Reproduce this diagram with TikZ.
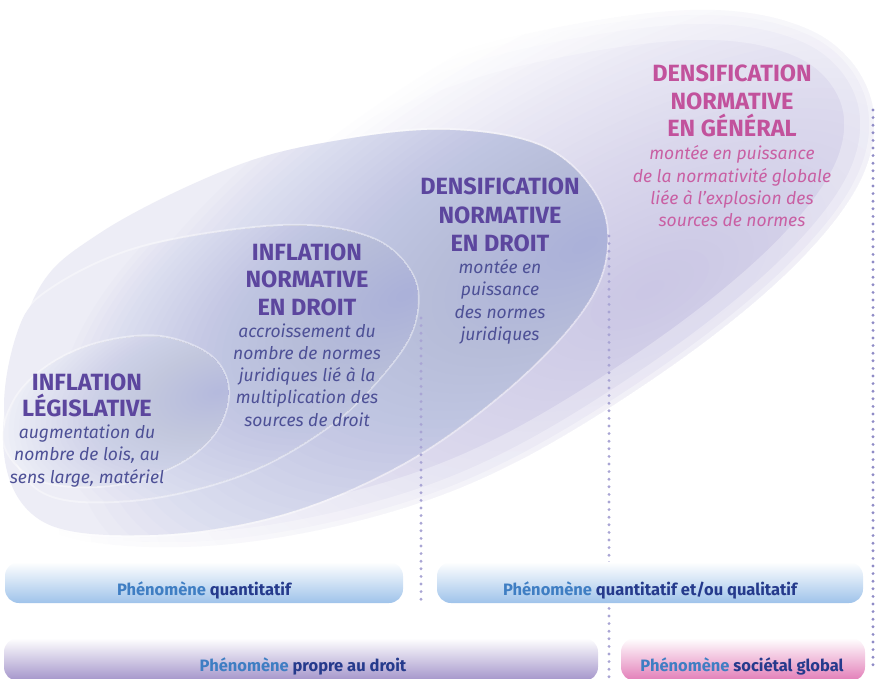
\documentclass[tikz,border=0pt]{standalone}
\usepackage{fontspec}
\setmainfont{Fira Sans}
\definecolor{headpurple}{HTML}{5C469E}
\definecolor{descblue}{HTML}{4D5096}
\definecolor{pinkhead}{HTML}{C2529C}
\definecolor{pinkdesc}{HTML}{C95FA3}
\definecolor{phen}{HTML}{3F7EC3}
\definecolor{navy}{HTML}{253A8C}
\definecolor{barblue}{HTML}{9FC3EA}
\definecolor{barpurple}{HTML}{A394CA}
\definecolor{barpink}{HTML}{E27CB7}
\definecolor{dotc}{HTML}{A9A5D4}
\definecolor{dotd}{HTML}{8F8BC6}
\definecolor{strongA}{HTML}{AAA4D4}
\definecolor{baseB}{HTML}{EDEDF6}
\definecolor{strongB}{HTML}{A3ACD9}
\definecolor{baseD}{HTML}{F1F1F8}
\definecolor{strongD}{HTML}{ADB4DD}
\tikzset{
  pathA/.style={insert path={plot[smooth cycle, tension=0.6] coordinates {(0,440) (30,270) (167,167) (333,100) (500,40) (690,10) (810,30) (868,90) (865,170) (800,260) (680,360) (520,460) (380,515) (220,545) (80,540) (5,500)}}},
  pathB/.style={insert path={plot[smooth cycle, tension=0.6] coordinates {(3,440) (33,300) (100,233) (233,167) (340,140) (450,130) (545,148) (598,200) (605,260) (575,320) (500,395) (400,465) (280,515) (150,535) (40,520)}}},
  pathC/.style={insert path={plot[smooth cycle, tension=0.6] coordinates {(5,420) (17,333) (50,290) (143,247) (283,226) (370,238) (412,275) (415,320) (390,365) (330,425) (240,475) (130,500) (40,490)}}},
  pathD/.style={insert path={plot[smooth cycle, tension=0.6] coordinates {(5,445) (15,400) (50,365) (100,343) (160,337) (210,356) (228,390) (215,432) (175,465) (110,485) (40,480)}}}
}
\begin{document}
\begin{tikzpicture}[x=1pt,y=-1pt,
  head/.style={font=\fontsize{23.5}{23.5}\selectfont\bfseries, text=headpurple, anchor=base, inner sep=0pt},
  desc/.style={font=\fontsize{17.5}{17.5}\selectfont\itshape, text=descblue, anchor=base, inner sep=0pt},
  pinkh/.style={head, text=pinkhead},
  pinkd/.style={desc, text=pinkdesc},
  bartext/.style={font=\fontsize{16.5}{16.5}\selectfont\bfseries, text=navy, anchor=base, inner sep=0pt},
  halo/.style={draw=white, line width=4pt, opacity=0.4},
  dotline/.style={line width=3.2pt, line cap=round, dash pattern=on 0pt off 7.6pt},
  bar/.style={rounded corners=14pt}
]
\useasboundingbox (0,0) rectangle (875,679);
\coordinate (fA) at (650,290);
\coordinate (fB) at (585,245);
\coordinate (fC) at (405,295);
\coordinate (fD) at (218,392);
% blob A : soft everywhere
\begin{scope}
  \clip[pathA];
  \foreach \k in {1,...,40}
    \fill[strongA, opacity=0.024, rotate around={28:(fA)}] (fA) ellipse ({16.25*\k} and {7.5*\k});
\end{scope}
\draw[white, opacity=0.3, line width=60pt, pathA];
\draw[white, opacity=0.3, line width=28pt, pathA];
\draw[white, opacity=0.35, line width=10pt, pathA];
% blob B
\path[halo, pathB];
\begin{scope}
  \clip[pathB];
  \fill[baseB, pathB];
  \foreach \k in {1,...,40}
    \fill[strongB, opacity=0.036, rotate around={28:(fB)}] (fB) ellipse ({14*\k} and {6.5*\k});
\end{scope}
% blob C
\path[halo, pathC];
\begin{scope}
  \clip[pathC];
  \fill[baseB, pathC];
  \foreach \k in {1,...,40}
    \fill[strongB, opacity=0.036, rotate around={28:(fC)}] (fC) ellipse ({9.5*\k} and {5*\k});
\end{scope}
% blob D
\path[halo, pathD];
\begin{scope}
  \clip[pathD];
  \fill[baseD, pathD];
  \foreach \k in {1,...,40}
    \fill[strongD, opacity=0.03, rotate around={15:(fD)}] (fD) ellipse ({5.5*\k} and {3*\k});
\end{scope}
% dotted separators
\coordinate (s1a) at (421,318); \coordinate (s1b) at (421,600);
\coordinate (s2a) at (609,236); \coordinate (s2b) at (609,679);
\coordinate (s3a) at (873,110); \coordinate (s3b) at (873,672);
\draw[dotline, dotc] (s1a) -- (s1b);
\draw[dotline, dotc] (s2a) -- (s2b);
\draw[dotline, dotd] (s3a) -- (s3b);
% bars
\shade[bar, top color=white, bottom color=barblue] (5,562) rectangle (403,603);
\shade[bar, top color=white, bottom color=barblue] (437,562) rectangle (863,603);
\shade[bar, top color=white, bottom color=barpurple] (4,638) rectangle (598,681);
\shade[bar, top color=white, bottom color=barpink] (621,638) rectangle (865,681);
\node[bartext] (b1) at (204,595) {\textcolor{phen}{Phénomène} quantitatif};
\node[bartext] (b2) at (650,595) {\textcolor{phen}{Phénomène} quantitatif et/ou qualitatif};
\node[bartext] (b3) at (303,671) {\textcolor{phen}{Phénomène} propre au droit};
\node[bartext] (b4) at (742,671) {\textcolor{phen}{Phénomène} sociétal global};
% block D
\foreach \t [count=\i] in {INFLATION,LÉGISLATIVE}
  \node[head] (dh\i) at (87,{390+26.7*(\i-1)}) {\t};
\foreach \t [count=\i] in {augmentation du,{nombre de lois, au},{sens large, matériel}}
  \node[desc] (dd\i) at (87,{438+22.5*(\i-1)}) {\t};
% block C
\foreach \t [count=\i] in {INFLATION,NORMATIVE,EN DROIT}
  \node[head] (ch\i) at (307,{260+27.5*(\i-1)}) {\t};
\foreach \t [count=\i] in {accroissement du,nombre de normes,juridiques lié à la,multiplication des,sources de droit}
  \node[desc] (cd\i) at (307,{337+22.3*(\i-1)}) {\t};
% block B
\foreach \t [count=\i] in {DENSIFICATION,NORMATIVE,EN DROIT}
  \node[head] (bh\i) at (500,{195+28*(\i-1)}) {\t};
\foreach \t [count=\i] in {montée en,puissance,des normes,juridiques}
  \node[desc] (bd\i) at (500,{273+22.5*(\i-1)}) {\t};
% block A
\foreach \t [count=\i] in {DENSIFICATION,NORMATIVE,EN GÉNÉRAL}
  \node[pinkh] (ah\i) at (732,{82+27.5*(\i-1)}) {\t};
\foreach \t [count=\i] in {montée en puissance,de la normativité globale,liée à l’explosion des,sources de normes}
  \node[pinkd] (ad\i) at (732,{160+22.3*(\i-1)}) {\t};
\end{tikzpicture}
\end{document}
